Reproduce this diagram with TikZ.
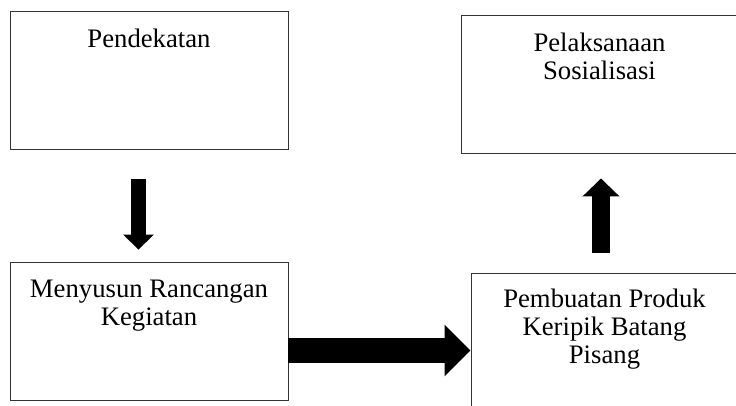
\documentclass[tikz,border=0pt]{standalone}
\usepackage{fontspec}
\setmainfont{Liberation Serif}
\usetikzlibrary{arrows.meta}

\tikzset{
  box/.style={draw=black!80, line width=0.9pt, minimum height=138pt, inner sep=0pt},
  lbl/.style={font=\fontsize{26.7}{28}\selectfont, align=center, anchor=base, inner sep=0pt},
  blk/.style n args={3}{line width=#1, -{Triangle[length=#2,width=#3]}}
}

\begin{document}
\begin{tikzpicture}[x=1pt, y=-1pt]
  \useasboundingbox (0,0) rectangle (736,405);
  \clip (0,0) rectangle (736,405);
  % boxes
  \node[box, minimum width=278pt] (pend)  at (149,80)    {};
  \node[box, minimum width=278pt] (susun) at (149,331)   {};
  \node[box, minimum width=267pt] (buat)  at (604.5,342) {};
  \node[box, minimum width=277pt] (laks)  at (599.5,84)  {};
  % texts (base = last line)
  \node[lbl] (pend-t)  at ([yshift=-37pt]pend.north)  {Pendekatan};
  \node[lbl] (susun-t) at ([yshift=-64pt]susun.north) {Menyusun Rancangan\\Kegiatan};
  \node[lbl] (buat-t)  at ([yshift=-91pt]buat.north)  {Pembuatan Produk\\Keripik Batang\\Pisang};
  \node[lbl] (laks-t)  at ([yshift=-65pt]laks.north)  {Pelaksanaan\\Sosialisasi};
  % arrows
  \draw[blk={15pt}{15pt}{30pt}] ([xshift=-10.5pt,yshift=-30pt]pend.south) -- ([xshift=-10.5pt,yshift=12pt]susun.north);
  \draw[blk={25pt}{26pt}{50pt}] ([yshift=-19.5pt]susun.east) -- ([yshift=-8.5pt]buat.west);
  \draw[blk={18pt}{18pt}{36pt}] ([xshift=-3.5pt,yshift=20pt]buat.north) -- ([xshift=1.5pt,yshift=-25pt]laks.south);
\end{tikzpicture}
\end{document}
